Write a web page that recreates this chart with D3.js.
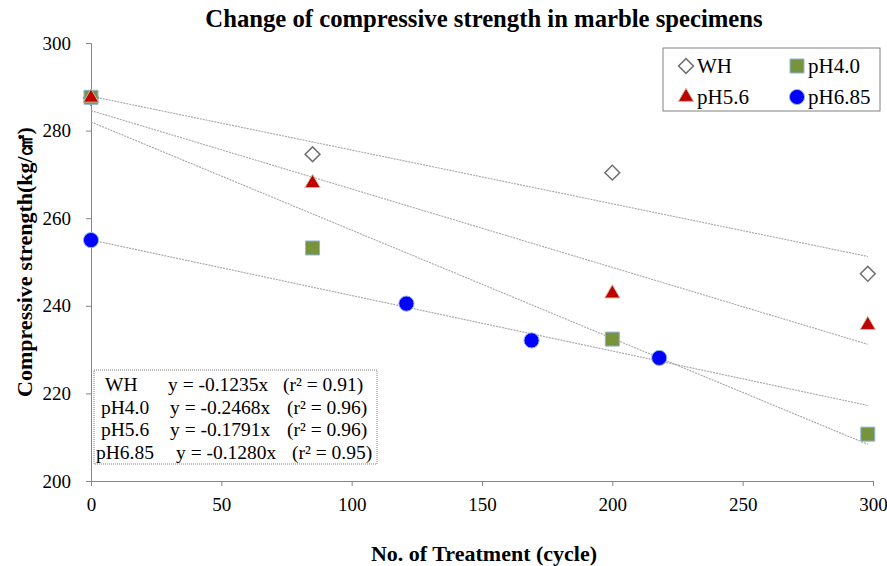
<!DOCTYPE html>
<html>
<head>
<meta charset="utf-8">
<script src="https://d3js.org/d3.v7.min.js"></script>
<style>
  body { margin: 0; background: #fff; }
  text { font-family: "Liberation Serif", "Times New Roman", serif; }
</style>
</head>
<body>
<div id="chart"></div>
<script>
// data
const whX = [0, 85, 200, 298];
const whY = [287.5, 274.6, 270.4, 247.3];
const ph40X = [0, 85, 200, 298];
const ph40Y = [287.6, 253.2, 232.4, 210.7];
const ph56X = [0, 85, 200, 298];
const ph56Y = [287.5, 268.0, 242.8, 235.6];
const ph685X = [0, 121, 169, 218];
const ph685Y = [255.0, 240.5, 232.1, 228.1];

const seriesNames = ["WH", "pH4.0", "pH5.6", "pH6.85"];
const xTicks = [0, 50, 100, 150, 200, 250, 300];
const yTicks = [200, 220, 240, 260, 280, 300];
const eqLabels = ["WH", "pH4.0", "pH5.6", "pH6.85"];
const eqText = ["y = -0.1235x", "y = -0.2468x", "y = -0.1791x", "y = -0.1280x"];
const r2Text = ["(r\u00b2 = 0.91)", "(r\u00b2 = 0.96)", "(r\u00b2 = 0.96)", "(r\u00b2 = 0.95)"];

const width = 887, height = 566;
const margin = {left: 91, right: 14, top: 43, bottom: 85};

const svg = d3.select("#chart").append("svg")
  .attr("width", width).attr("height", height);

const x = d3.scaleLinear().domain([0, 300]).range([margin.left, width - margin.right]);
const y = d3.scaleLinear().domain([200, 300]).range([height - margin.bottom, margin.top]);

// styles per series
const styles = {
  "WH":     {shape: "diamond",  fill: "#ffffff", stroke: "#707070", sw: 1.5},
  "pH4.0":  {shape: "square",   fill: "#77933C", stroke: "#8EB4E3", sw: 1},
  "pH5.6":  {shape: "triangle", fill: "#C00000", stroke: "#C4BD97", sw: 1},
  "pH6.85": {shape: "circle",   fill: "#0000FF", stroke: "#8EB4E3", sw: 1}
};
const symPath = {
  diamond: d3.symbol().type(d3.symbolSquare).size(110)(),
  square: d3.symbol().type(d3.symbolSquare).size(196)(),
  triangle: d3.symbol().type(d3.symbolTriangle).size(100)(),
  circle: d3.symbol().type(d3.symbolCircle).size(180)()
};

const series = [
  {name: "WH", xs: whX, ys: whY},
  {name: "pH4.0", xs: ph40X, ys: ph40Y},
  {name: "pH5.6", xs: ph56X, ys: ph56Y},
  {name: "pH6.85", xs: ph685X, ys: ph685Y}
];

// least squares fit
const fit = (xs, ys) => {
  const mx = d3.mean(xs), my = d3.mean(ys);
  let sxy = 0, sxx = 0;
  for (let i = 0; i < xs.length; i++) {
    sxy += (xs[i] - mx) * (ys[i] - my);
    sxx += (xs[i] - mx) * (xs[i] - mx);
  }
  const b = sxy / sxx;
  return [b, my - b * mx];
};

// axes
const yAxis = svg.append("g")
  .attr("transform", `translate(${margin.left},0)`)
  .call(d3.axisLeft(y).tickValues(yTicks).tickSize(5).tickPadding(15));
const xAxis = svg.append("g")
  .attr("transform", `translate(0,${height - margin.bottom})`)
  .call(d3.axisBottom(x).tickValues(xTicks).tickSize(5).tickPadding(12));
[xAxis, yAxis].forEach(g => {
  g.selectAll("path, line").attr("stroke", "#868686");
  g.selectAll("text").attr("font-size", 19).attr("fill", "#000")
    .attr("font-family", "Liberation Serif");
});

// trendlines
const xMax = d3.max(series, s => d3.max(s.xs));
series.forEach(s => {
  const [b, a] = fit(s.xs, s.ys);
  svg.append("line")
    .attr("x1", x(0)).attr("y1", y(a))
    .attr("x2", x(xMax)).attr("y2", y(a + b * xMax))
    .attr("stroke", "#a6a6a6").attr("stroke-width", 1.1)
    .attr("stroke-dasharray", "2,1");
});

// markers
const drawMarker = (g, name, px, py) => {
  const st = styles[name];
  g.append("path")
    .attr("d", symPath[st.shape])
    .attr("transform", `translate(${px},${py})` + (st.shape === "diamond" ? " rotate(45)" : ""))
    .attr("fill", st.fill).attr("stroke", st.stroke).attr("stroke-width", st.sw);
};
series.forEach(s => {
  const g = svg.append("g");
  s.xs.forEach((v, i) => drawMarker(g, s.name, x(v), y(s.ys[i])));
});

// title
svg.append("text")
  .attr("x", 484).attr("y", 27)
  .attr("text-anchor", "middle").attr("font-weight", "bold").attr("font-size", 24.7)
  .text("Change of compressive strength in marble specimens");

// axis titles
svg.append("text")
  .attr("x", 484).attr("y", 561)
  .attr("text-anchor", "middle").attr("font-weight", "bold").attr("font-size", 22)
  .text("No. of Treatment (cycle)");
svg.append("text")
  .attr("transform", "translate(32,262) rotate(-90)")
  .attr("text-anchor", "middle").attr("font-weight", "bold").attr("font-size", 22)
  .text("Compressive strength(kg/\u33a0)");

// legend
const legend = svg.append("g");
legend.append("rect")
  .attr("x", 663).attr("y", 48).attr("width", 217).attr("height", 63)
  .attr("fill", "#fff").attr("stroke", "#808080").attr("stroke-width", 1);
seriesNames.forEach((n, i) => {
  const lx = 686 + (i % 2) * 111, ly = 66 + Math.floor(i / 2) * 31;
  drawMarker(legend, n, lx, ly);
  legend.append("text")
    .attr("x", lx + 11).attr("y", ly + 7)
    .attr("font-size", 21).text(n);
});

// equation box
const eq = svg.append("g");
eq.append("rect")
  .attr("x", 94).attr("y", 370).attr("width", 283).attr("height", 94)
  .attr("fill", "#fff").attr("stroke", "#808080").attr("stroke-width", 1)
  .attr("stroke-dasharray", "1,1");
const colLabel = [105, 101, 101, 96];
const colEq = [168, 170, 170, 176];
const colR2 = [283, 287, 287, 292];
eqLabels.forEach((lab, i) => {
  const ty = 391 + i * 22.7;
  eq.append("text").attr("x", colLabel[i]).attr("y", ty).attr("font-size", 19.5).text(lab);
  eq.append("text").attr("x", colEq[i]).attr("y", ty).attr("font-size", 19.5).text(eqText[i]);
  eq.append("text").attr("x", colR2[i]).attr("y", ty).attr("font-size", 19.5).text(r2Text[i]);
});
</script>
</body>
</html>
